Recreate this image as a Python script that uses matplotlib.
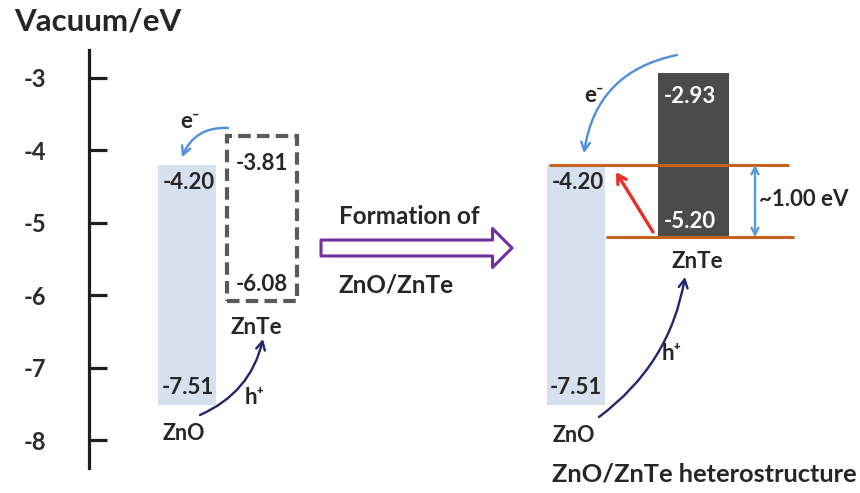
import matplotlib
matplotlib.use("Agg")
import matplotlib.pyplot as plt

plt.rcParams['font.family'] = ['Lato', 'DejaVu Sans']
plt.rcParams['font.weight'] = 'bold'

# Energy levels versus vacuum (eV)
tick_values = [-3, -4, -5, -6, -7, -8]
zno_cb, zno_vb = -4.20, -7.51
znte_cb_iso, znte_vb_iso = -3.81, -6.08
znte_cb_het, znte_vb_het = -2.93, -5.20
band_offset = round(zno_cb - znte_vb_het, 2)

W, H = 860, 493
fig = plt.figure(figsize=(W / 100, H / 100), dpi=100)
ax = fig.add_axes([0, 0, 1, 1])

PX_PER_EV = 72.5


def ev(row):
    """Energy value at a given pixel row of the canvas."""
    return -5.5 + (259 - row) / PX_PER_EV


ax.set_xlim(0, W)
ax.set_ylim(ev(H), ev(0))

# vertical energy axis
for s in ['top', 'right', 'bottom']:
    ax.spines[s].set_visible(False)
ax.spines['left'].set_position(('data', 89))
ax.spines['left'].set_bounds(ev(468), ev(50))
ax.spines['left'].set_linewidth(2.3)
ax.spines['left'].set_color('#1e1e1e')
ax.set_xticks([])
ax.set_yticks(tick_values)
ax.set_yticklabels([f'{v}' for v in tick_values])
ax.tick_params(axis='y', direction='in', length=13, width=2.3, color='#1e1e1e',
               pad=31, labelsize=17, labelcolor='#2b2b2b')

TXT = '#262626'


def ptext(x, y, s, **kw):
    kw.setdefault('color', TXT)
    kw.setdefault('va', 'center')
    fig.text(x / W, 1 - y / H, s, **kw)


def vlabel(x, v, s, dy, color=TXT, size=16):
    ax.annotate(s, (x, v), xytext=(0, dy), textcoords='offset pixels',
                ha='center', va='center', color=color, fontsize=size, zorder=6)


def arrow(start, end, color, rad, lw=1.7, style='->,head_length=0.6,head_width=0.32'):
    ax.annotate('', xy=end, xytext=start,
                arrowprops=dict(arrowstyle=style, color=color, lw=lw,
                                connectionstyle=f'arc3,rad={rad}',
                                shrinkA=0, shrinkB=0), zorder=5)


ptext(14, 21, 'Vacuum/eV', fontsize=22.5, color='#262626')

# ---- separated semiconductors ----
ax.bar(187, zno_cb - zno_vb, bottom=zno_vb, width=58, color='#d7e0ef', zorder=1)
ax.bar(262, znte_cb_iso - znte_vb_iso, bottom=znte_vb_iso, width=70, fill=False,
       edgecolor='#5a5a5a', linewidth=3.0, linestyle=(0, (3.0, 1.5)), zorder=2)

vlabel(189, zno_cb, f'{zno_cb:.2f}', -18)
vlabel(188, zno_vb, f'{zno_vb:.2f}', 17)
vlabel(262, znte_cb_iso, f'{znte_cb_iso:.2f}', -27)
vlabel(262, znte_vb_iso, f'{znte_vb_iso:.2f}', 17)

ptext(184, 434, 'ZnO', ha='center', fontsize=15.5)
ptext(256, 328, 'ZnTe', ha='center', fontsize=16)
ptext(190, 122, 'e\u207b', ha='center', fontsize=16)
ptext(255, 398, 'h\u207a', ha='center', fontsize=16)

arrow((228, ev(128)), (182, ev(157)), '#4f90dc', 0.35)
arrow((200, ev(415)), (263, ev(339)), '#25256f', 0.25)

# ---- formation arrow ----
ptext(409, 216, 'Formation of', ha='center', fontsize=17.5)
ptext(396, 285, 'ZnO/ZnTe', ha='center', fontsize=17.5)
ax.annotate('', xy=(512, ev(248)), xytext=(321, ev(248)),
            arrowprops=dict(arrowstyle='simple,head_length=1.4,head_width=2.8,tail_width=1.15',
                            mutation_scale=10, facecolor='white', edgecolor='#7030a0',
                            lw=2.2, shrinkA=0, shrinkB=0), zorder=4)

# ---- heterostructure ----
ax.bar(576, zno_cb - zno_vb, bottom=zno_vb, width=58, color='#d7e0ef', zorder=1)
ax.bar(693.5, znte_cb_het - znte_vb_het, bottom=znte_vb_het, width=71,
       color='#4b4b4b', zorder=2)
ax.hlines(zno_cb, 549, 789, color='#c5631f', lw=2.2, zorder=3)
ax.hlines(znte_vb_het, 606, 794, color='#c5631f', lw=2.2, zorder=3)

vlabel(578, zno_cb, f'{zno_cb:.2f}', -18)
vlabel(576, zno_vb, f'{zno_vb:.2f}', 17)
vlabel(690, znte_cb_het, f'{znte_cb_het:.2f}', -24, color='white')
vlabel(690, znte_vb_het, f'{znte_vb_het:.2f}', 16, color='white')

ax.annotate('', xy=(755, zno_cb), xytext=(755, znte_vb_het),
            arrowprops=dict(arrowstyle='<->,head_length=0.5,head_width=0.25',
                            color='#5b9bd5', lw=1.7, shrinkA=0, shrinkB=0), zorder=4)
ptext(804, 200, f'~{band_offset:.2f} eV', ha='center', fontsize=16)

arrow((653, ev(232)), (616, ev(172)), '#e3302a', 0.0, lw=2.4,
      style='->,head_length=0.6,head_width=0.35')
arrow((677, ev(55)), (584, ev(153)), '#4f90dc', 0.35)
arrow((599, ev(417)), (685, ev(277)), '#25256f', 0.2)

ptext(594, 95, 'e\u207b', ha='center', fontsize=16)
ptext(672, 354, 'h\u207a', ha='center', fontsize=16)
ptext(697, 262, 'ZnTe', ha='center', fontsize=16)
ptext(574, 436, 'ZnO', ha='center', fontsize=15.5)
ptext(552, 474, 'ZnO/ZnTe heterostructure', ha='left', fontsize=18.3)

fig.savefig('out.png', dpi=100)
